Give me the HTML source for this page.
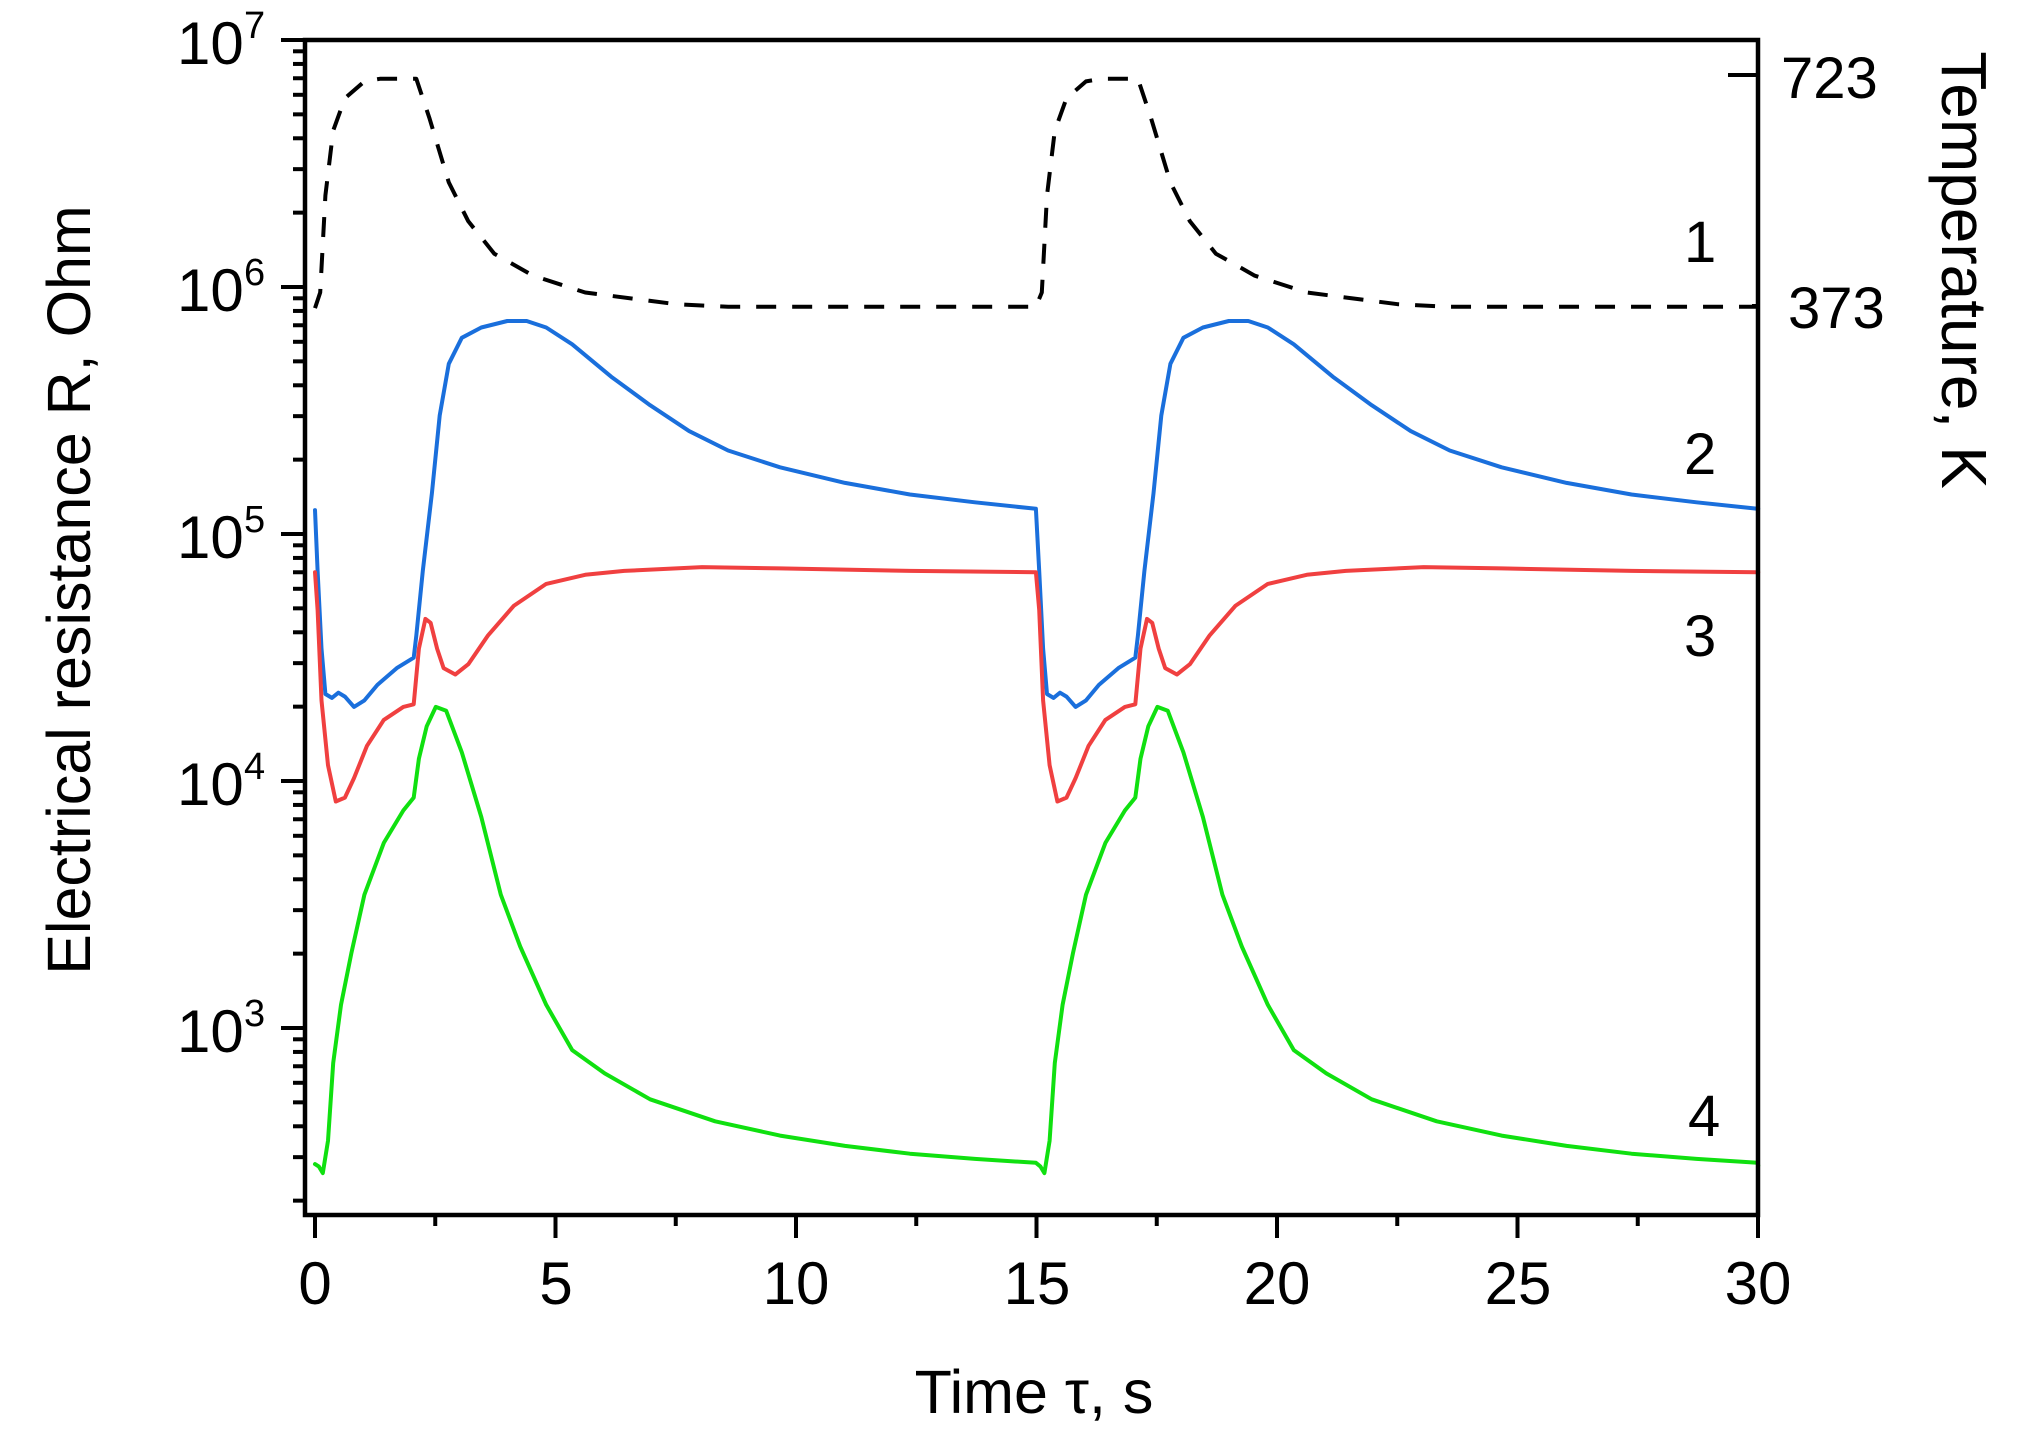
<!DOCTYPE html>
<html><head><meta charset="utf-8"><style>
html,body{margin:0;padding:0;background:#fff;width:2039px;height:1433px;overflow:hidden}
svg text{font-family:"Liberation Sans",sans-serif;fill:#000}
</style></head><body>
<svg id="s" width="2039" height="1433" viewBox="0 0 2039 1433" xmlns="http://www.w3.org/2000/svg">
<g id="ticks" stroke="#000" stroke-width="4"></g>
<g id="curves" fill="none" stroke-width="4" stroke-linejoin="round" stroke-linecap="round"></g>
<rect x="305" y="40" width="1453" height="1175" fill="none" stroke="#000" stroke-width="4.5"/>
<g font-size="60">
<text x="177" y="64">10</text><text x="244" y="38" font-size="38">7</text>
<text x="177" y="311">10</text><text x="244" y="285" font-size="38">6</text>
<text x="177" y="558">10</text><text x="244" y="532" font-size="38">5</text>
<text x="177" y="805">10</text><text x="244" y="779" font-size="38">4</text>
<text x="177" y="1052">10</text><text x="244" y="1026" font-size="38">3</text>
</g>
<g font-size="60" text-anchor="middle">
<text x="315" y="1304">0</text><text x="556" y="1304">5</text><text x="796" y="1304">10</text>
<text x="1037" y="1304">15</text><text x="1277" y="1304">20</text><text x="1518" y="1304">25</text><text x="1758" y="1304">30</text>
</g>
<g font-size="58">
<text x="1781" y="98">723</text><text x="1788" y="328">373</text>
<text x="1684" y="262">1</text><text x="1684" y="474">2</text><text x="1684" y="656">3</text><text x="1688" y="1136">4</text>
</g>
<text font-size="61" text-anchor="middle" transform="translate(90,590) rotate(-90)">Electrical resistance R, Ohm</text>
<text font-size="61" text-anchor="middle" x="1034" y="1413">Time τ, s</text>
<text font-size="64" text-anchor="middle" transform="translate(1942,270) rotate(90)">Temperature, K</text>
</svg>
<script>
var NS="http://www.w3.org/2000/svg";
function el(p,n,a){var e=document.createElementNS(NS,n);for(var k in a)e.setAttribute(k,a[k]);document.getElementById(p).appendChild(e);}
function Y(l){return 40+(7-l)*247;}
for(var d=2;d<7;d++){for(var m=1;m<10;m++){var y=Y(d+Math.log10(m));if(y>1215||y<40)continue;el("ticks","line",{x1:305,x2:m==1?281:293,y1:y,y2:y});}}
el("ticks","line",{x1:305,x2:281,y1:40,y2:40});
for(var t=0;t<=30;t+=2.5){var x=315+t*48.1;el("ticks","line",{x1:x,x2:x,y1:1215,y2:(t%5==0)?1238:1226});}
el("ticks","line",{x1:1758,x2:1728,y1:75,y2:75});
el("ticks","line",{x1:1758,x2:1752,y1:306,y2:306});
function M(p){return [315+(p[0]-242)*1.299,40+(p[1]-30)*1.295];}
function path(pts,color,dash){
 var d=pts.map(function(p,i){var q=M(p);return (i?"L":"M")+q[0].toFixed(1)+","+q[1].toFixed(1);}).join("");
 var a={d:d,stroke:color};if(dash){a["stroke-dasharray"]=dash;a["stroke-linecap"]="butt";}el("curves","path",a);}
function two(c,endY){var s=555.5,o=c.slice();for(var i=1;i<c.length;i++)o.push([c[i][0]+s,c[i][1]]);o.push([1353,endY]);return o;}
var T=[[242,237],[246,225],[250,150],[256,100],[265,75],[280,62],[292,60],[320,60],[330,90],[345,140],[360,170],[380,195],[410,212],[450,225],[520,234],[560,236],[797,236]];
var B=[[242,393],[244,440],[247,500],[250,535],[255,538],[260,534],[265,537],[272,545],[280,540],[290,528],[305,515],[318,507],[320,490],[325,440],[332,380],[338,320],[345,280],[355,260],[370,252],[390,247],[405,247],[420,252],[440,265],[470,290],[500,312],[530,332],[560,347],[600,360],[650,372],[700,381],[750,387],[797,392]];
var R=[[242,441],[244,470],[247,540],[252,590],[258,618],[265,615],[272,600],[282,575],[295,555],[310,545],[318,543],[322,500],[327,477],[331,480],[336,500],[341,515],[350,520],[360,512],[375,490],[395,467],[420,450],[450,443],[480,440],[540,437],[600,438],[700,440],[797,441]];
var G=[[242,898],[245,900],[248,905],[252,880],[256,820],[262,775],[270,735],[280,690],[295,650],[310,625],[318,615],[322,585],[328,560],[335,545],[343,548],[355,580],[370,630],[385,690],[400,730],[420,775],[440,810],[465,828],[500,848],[550,865],[600,876],[650,884],[700,890],[750,894],[797,897]];
path(two(T,236),"#000","20,16");
path(two(B,392),"#1a6fdc");
path(two(R,441),"#f04040");
path(two(G,899),"#10e010");
</script>
</body></html>
